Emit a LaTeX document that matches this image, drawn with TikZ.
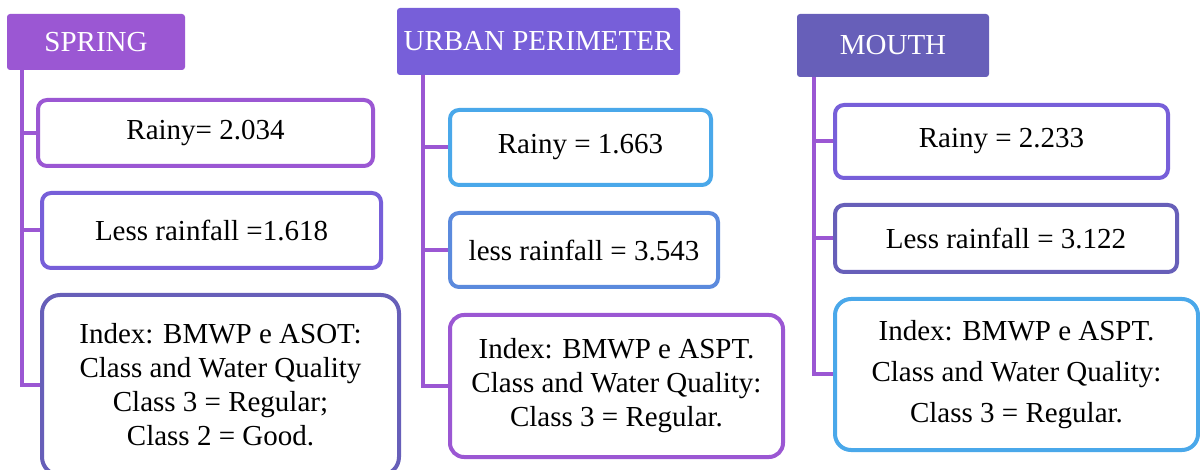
\documentclass[tikz,border=0pt]{standalone}
\usepackage{fontspec}
\setmainfont{Liberation Serif}
\newfontfamily\timesfont{Liberation Serif}
\definecolor{grape}{RGB}{155,87,211}
\definecolor{violet2}{RGB}{119,95,217}
\definecolor{slate}{RGB}{103,95,185}
\definecolor{sky}{RGB}{74,168,234}
\definecolor{midblue}{RGB}{91,138,221}

\begin{document}
\begin{tikzpicture}[x=1pt,y=-1pt,
    every node/.style={font=\timesfont\fontsize{29}{34}\selectfont},
    head/.style={rectangle,rounded corners=3pt,text=white,inner sep=0pt},
    card/.style={rectangle,draw,line width=4pt,rounded corners=9pt,fill=white,align=center,inner sep=0pt},
    trunk/.style={grape,line width=4pt}]
    \useasboundingbox (0,0) rectangle (1200,470);

    % spring
    \node[head,fill=grape,minimum width=178pt,minimum height=56pt] (spring) at (96,42) {SPRING};
    \node[card,draw=grape,minimum width=335pt,minimum height=66pt] (s1) at (205.5,133) {Rainy= 2.034};
    \node[card,draw=violet2,minimum width=339pt,minimum height=75pt] (s2) at (211.5,230.5) {Less rainfall =1.618};
    \node[card,draw=slate,rounded corners=18pt,minimum width=357pt,minimum height=180pt] (s3) at (220.5,385)
        {Index: BMWP e ASOT:\\Class and Water Quality\\Class 3 = Regular;\\Class 2 = Good.};
    \coordinate (st) at ([xshift=15pt]spring.south west);
    \draw[trunk] (st) |- (s3.west);
    \draw[trunk] (st |- s1.west) -- (s1.west) (st |- s2.west) -- (s2.west);

    % urban perimeter
    \node[head,fill=violet2,minimum width=283pt,minimum height=67pt] (urban) at (538.5,41.5) {URBAN PERIMETER};
    \node[card,draw=sky,minimum width=261pt,minimum height=75pt] (u1) at (580.5,147.5) {Rainy = 1.663};
    \node[card,draw=midblue,minimum width=268pt,minimum height=74pt] (u2) at (584,250) {less rainfall = 3.543};
    \node[card,draw=grape,rounded corners=14pt,minimum width=333pt,minimum height=142pt] (u3) at (616.5,386)
        {Index: BMWP e ASPT.\\Class and Water Quality:\\Class 3 = Regular.};
    \coordinate (ut) at ([xshift=26pt]urban.south west);
    \draw[trunk] (ut) |- (u3.west);
    \draw[trunk] (ut |- u1.west) -- (u1.west) (ut |- u2.west) -- (u2.west);

    % mouth
    \node[head,fill=slate,minimum width=192pt,minimum height=63pt] (mouth) at (893,45.5) {MOUTH};
    \node[card,draw=violet2,minimum width=333pt,minimum height=73pt] (m1) at (1001.5,141.5) {Rainy = 2.233};
    \node[card,draw=slate,minimum width=342pt,minimum height=67pt] (m2) at (1006,238.5) {Less rainfall = 3.122};
    \node[card,draw=sky,rounded corners=16pt,minimum width=363pt,minimum height=151pt,
        font=\timesfont\fontsize{29}{41}\selectfont] (m3) at (1016.5,374.5)
        {Index: BMWP e ASPT.\\Class and Water Quality:\\Class 3 = Regular.};
    \coordinate (mt) at ([xshift=17pt]mouth.south west);
    \draw[trunk] (mt) |- (m3.west);
    \draw[trunk] (mt |- m1.west) -- (m1.west) (mt |- m2.west) -- (m2.west);
\end{tikzpicture}
\end{document}
